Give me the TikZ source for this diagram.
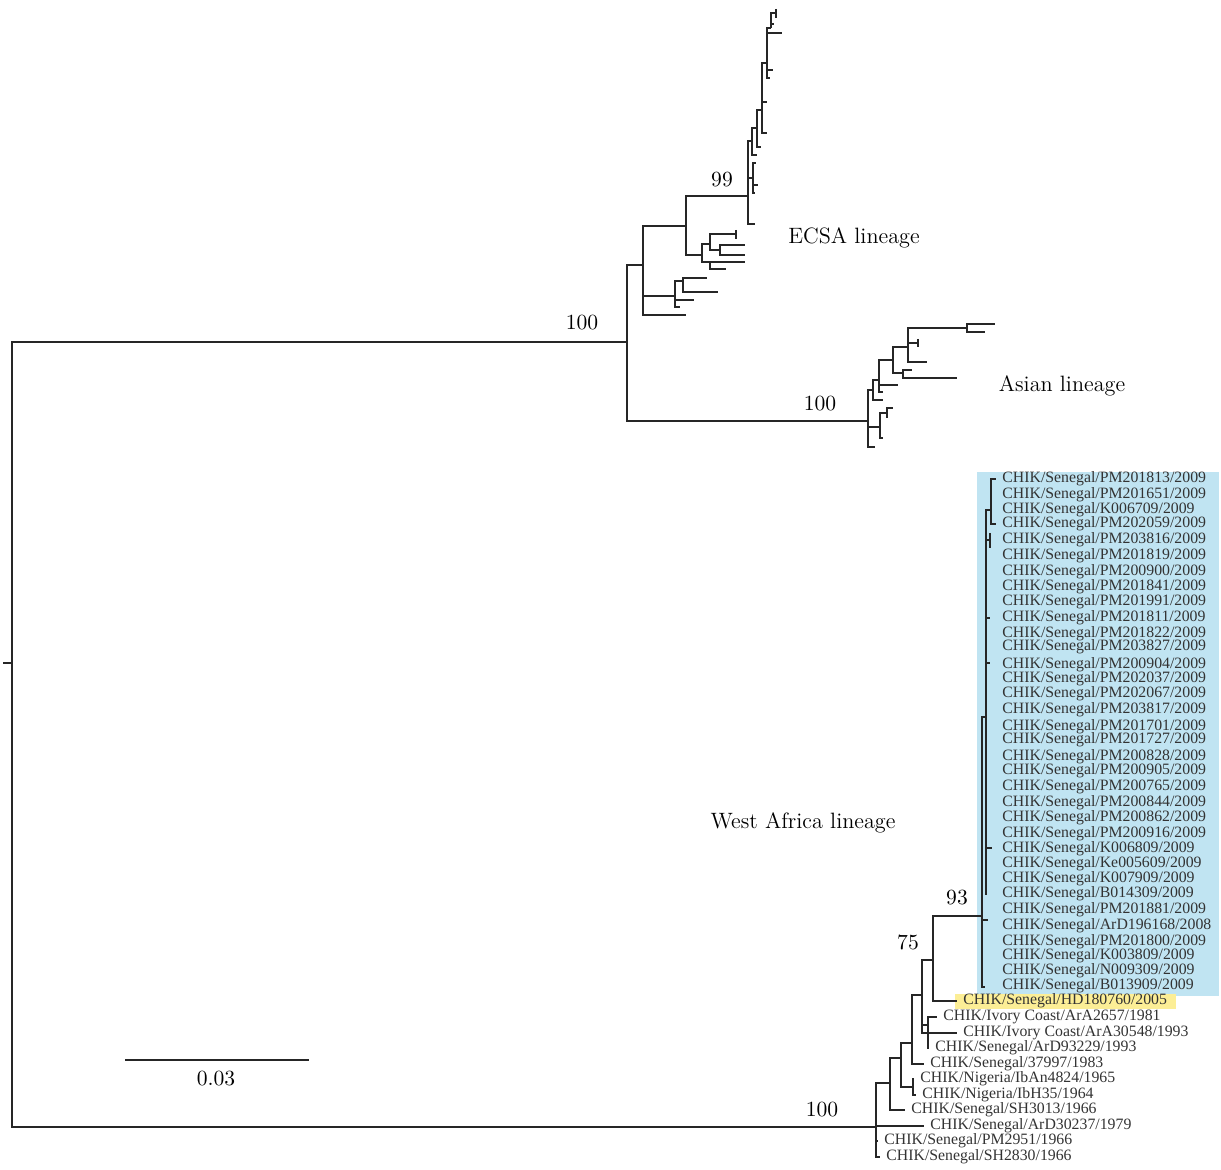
\documentclass[tikz,border=0pt]{standalone}
\usepackage{fontspec}
\newfontfamily\tipfont{Liberation Serif}
\begin{document}
\begin{tikzpicture}[x=0.5pt, y=-0.5pt,
			branch/.style={line width=1pt, black!85},
			tiplab/.style={anchor=west, inner xsep=3pt, inner ysep=0pt, text=black!80, font=\tipfont\fontsize{7.9}{9}\selectfont},
			boot/.style={inner sep=0pt, font=\fontsize{10.8}{12}\selectfont},
			lineage/.style={inner sep=0pt, font=\fontsize{11.1}{13}\selectfont},
			bluebox/.style={fill={rgb,255:red,192;green,228;blue,242}},
			yellowbox/.style={fill={rgb,255:red,252;green,238;blue,150}},
			]
			
			\useasboundingbox (0,0) rectangle (1221,1170);
			
			%%═══ HIGHLIGHTS ══════════════════════════════════════════════
			\fill[bluebox]   (977,472) rectangle (1219,996);    % 2008-2009 strains
			\fill[yellowbox] (955,994) rectangle (1176,1009);   % HD180760
			
			%%═══ BACKBONE ════════════════════════════════════════════════
			\coordinate (rootstub) at (3,663);
			\coordinate (root)     at (12,663);
			\coordinate (ecsaasia) at (627,342);
			\coordinate (wafrica)  at (876,1127);
			\draw[branch] (rootstub) -- (root);
			\draw[branch] (root) |- (ecsaasia);
			\draw[branch] (root) |- (wafrica);
			
			%%═══ ECSA LINEAGE ════════════════════════════════════════════
			\coordinate (ecsa) at (643,265);
			\coordinate (e1)   at (686,226);
			\coordinate (e2)   at (675,296);
			\coordinate (e2a)  at (683,281);
			\coordinate (e3)   at (702,255);
			\coordinate (e3a)  at (710,244);
			\coordinate (e3b)  at (720,250);
			\coordinate (e3c)  at (710,262);
			\coordinate (e99)  at (748,196);
			\coordinate (e4)   at (752,141);
			\coordinate (e5)   at (753,178);
			\coordinate (e6)   at (757,128);
			\coordinate (e7)   at (762,110);
			\coordinate (e8)   at (767,63);
			\coordinate (e9)   at (771,28);
			\draw[branch] (ecsaasia) |- (ecsa);
			\draw[branch] (ecsa) |- (e1);
			\draw[branch] (ecsa) |- (e2);
			\draw[branch] (ecsa) |- (686,315);
			% basal group
			\draw[branch] (e2) |- (e2a);
			\draw[branch] (e2a) |- (707,278);
			\draw[branch] (e2a) |- (718,292);
			\draw[branch] (e2) |- (694,300);
			\draw[branch] (e2) |- (680,307);
			% middle group
			\draw[branch] (e1) |- (e3);
			\draw[branch] (e3) |- (e3a);
			\draw[branch] (e3a) |- (736,234);
			\draw[branch] (736,230) -- (736,239);
			\draw[branch] (e3a) |- (e3b);
			\draw[branch] (e3b) |- (745,245);
			\draw[branch] (e3b) |- (745,255);
			\draw[branch] (e3) |- (e3c);
			\draw[branch] (e3c) |- (745,262);
			\draw[branch] (e3c) |- (726,269);
			% supported group (99)
			\draw[branch] (e1) |- (e99);
			\draw[branch] (e99) |- (755,224);
			\draw[branch] (e99) |- (e5);
			\draw[branch] (e5) |- (756,163);
			\draw[branch] (e5) |- (758,185);
			\draw[branch] (e5) |- (755,193);
			\draw[branch] (e99) |- (e4);
			\draw[branch] (e4) |- (757,155);
			\draw[branch] (e4) |- (e6);
			\draw[branch] (e6) |- (761,147);
			\draw[branch] (e6) |- (e7);
			\draw[branch] (e7) |- (767,133);
			\draw[branch] (e7) |- (767,102);
			\draw[branch] (e7) |- (e8);
			\draw[branch] (e8) |- (773,70);
			\draw[branch] (e8) |- (770,78);
			\draw[branch] (e8) |- (782,33);
			\draw[branch] (e8) |- (e9);
			\draw[branch] (e9) |- (777,13);
			\draw[branch] (e9) |- (774,24);
			\draw[branch] (776,9) -- (776,18);
			
			%%═══ ASIAN LINEAGE ═══════════════════════════════════════════
			\coordinate (asia) at (868,421);
			\coordinate (a1)   at (873,390);
			\coordinate (a2)   at (880,427);
			\coordinate (a3)   at (879,380);
			\coordinate (a4)   at (893,360);
			\coordinate (a5)   at (908,347);
			\coordinate (a6)   at (903,373);
			\coordinate (a7)   at (967,328);
			\coordinate (a9)   at (887,413);
			\draw[branch] (ecsaasia) |- (asia);
			\draw[branch] (asia) |- (a1);
			\draw[branch] (asia) |- (a2);
			\draw[branch] (asia) |- (875,447);
			\draw[branch] (a1) |- (a3);
			\draw[branch] (a1) |- (883,400);
			\draw[branch] (a3) |- (a4);
			\draw[branch] (a3) |- (898,385);
			\draw[branch] (a3) |- (883,392);
			\draw[branch] (a4) |- (a5);
			\draw[branch] (a4) |- (a6);
			\draw[branch] (a5) |- (a7);
			\draw[branch] (a5) |- (918,343);
			\draw[branch] (918,339) -- (918,347);
			\draw[branch] (a5) |- (927,362);
			\draw[branch] (a7) |- (995,324);
			\draw[branch] (a7) |- (985,332);
			\draw[branch] (a6) |- (912,370);
			\draw[branch] (a6) |- (957,378);
			\draw[branch] (a2) |- (a9);
			\draw[branch] (a9) |- (893,408);
			\draw[branch] (a9) |- (888,417);
			\draw[branch] (a2) |- (883,438);
			
			%%═══ WEST AFRICA LINEAGE ═════════════════════════════════════
			\coordinate (wa2)     at (890,1083);
			\coordinate (wa3)     at (901,1058);
			\coordinate (wa4)     at (912,1043);
			\coordinate (wa5)     at (922,995);
			\coordinate (wa75)    at (933,960);
			\coordinate (wa93)    at (982,916);
			\coordinate (nigeria) at (913,1087);
			\coordinate (ivory)   at (928,1025);
			% tip labels outside the 2008-2009 group
			\node[tiplab] (HD180760) at (957,1001) {CHIK/Senegal/HD180760/2005};
			\node[tiplab] (ArA2657)  at (937,1017) {CHIK/Ivory Coast/ArA2657/1981};
			\node[tiplab] (ArA30548) at (957,1033) {CHIK/Ivory Coast/ArA30548/1993};
			\node[tiplab] (ArD93229) at (929,1048) {CHIK/Senegal/ArD93229/1993};
			\node[tiplab] (S37997)   at (924,1064) {CHIK/Senegal/37997/1983};
			\node[tiplab] (IbAn4824) at (914,1079) {CHIK/Nigeria/IbAn4824/1965};
			\node[tiplab] (IbH35)    at (916,1095) {CHIK/Nigeria/IbH35/1964};
			\node[tiplab] (SH3013)   at (905,1110) {CHIK/Senegal/SH3013/1966};
			\node[tiplab] (ArD30237) at (924,1126) {CHIK/Senegal/ArD30237/1979};
			\node[tiplab] (PM2951)   at (878,1141) {CHIK/Senegal/PM2951/1966};
			\node[tiplab] (SH2830)   at (880,1157) {CHIK/Senegal/SH2830/1966};
			\draw[branch] (wafrica) |- (wa2);
			\draw[branch] (wafrica) |- (ArD30237.west);
			\draw[branch] (wafrica) |- (PM2951.west);
			\draw[branch] (wafrica) |- (SH2830.west);
			\draw[branch] (wa2) |- (wa3);
			\draw[branch] (wa2) |- (SH3013.west);
			\draw[branch] (wa3) |- (wa4);
			\draw[branch] (wa3) |- (nigeria);
			\draw[branch] (nigeria) |- (IbAn4824.west);
			\draw[branch] (nigeria) |- (IbH35.west);
			\draw[branch] (wa4) |- (wa5);
			\draw[branch] (wa4) |- (S37997.west);
			\draw[branch] (wa5) |- (wa75);
			\draw[branch] (wa5) |- (ivory);
			\draw[branch] (wa5) |- (ArA30548.west);
			\draw[branch] (ivory) |- (ArA2657.west);
			\draw[branch] (ivory) |- (ArD93229.west);
			\draw[branch] (wa75) |- (wa93);
			\draw[branch] (wa75) |- (HD180760.west);
			
			% 2008-2009 group (blue box)
			\foreach \yy/\nm/\yr [count=\i] in {
				479/PM201813/2009, 495/PM201651/2009, 510/K006709/2009, 524/PM202059/2009,
				540/PM203816/2009, 556/PM201819/2009, 572/PM200900/2009, 587/PM201841/2009,
				602/PM201991/2009, 618/PM201811/2009, 634/PM201822/2009, 647/PM203827/2009,
				665/PM200904/2009, 679/PM202037/2009, 694/PM202067/2009, 710/PM203817/2009,
				727/PM201701/2009, 740/PM201727/2009, 757/PM200828/2009, 771/PM200905/2009,
				787/PM200765/2009, 803/PM200844/2009, 818/PM200862/2009, 834/PM200916/2009,
				849/K006809/2009, 864/Ke005609/2009, 879/K007909/2009, 894/B014309/2009,
				910/PM201881/2009, 926/ArD196168/2008, 942/PM201800/2009, 956/K003809/2009,
				971/N009309/2009, 986/B013909/2009}
			\node[tiplab] (blue\i) at (996,\yy) {CHIK/Senegal/\nm/\yr};
			
			\coordinate (blueback) at (986,717);
			\coordinate (bluetop)  at (991,510);
			\coordinate (bluepair) at (990,540);
			\draw[branch] (wa93) |- (blueback);
			\draw[branch] (wa93) |- (985,987);
			\draw[branch] (wa93) |- (988,920);
			\draw[branch] (blueback) |- (bluetop);
			\draw[branch] (bluetop) |- (blue1.west);
			\draw[branch] (bluetop) |- (blue4.west);
			\draw[branch] (blueback) |- (bluepair);
			\draw[branch] (990,533) -- (990,548);
			\draw[branch] (blueback) |- (990,618);
			\draw[branch] (blueback) |- (990,663);
			\draw[branch] (blueback) |- (992,848);
			\draw[branch] (blueback) |- (986,895);
			
			%%═══ SUPPORT VALUES AND LINEAGE NAMES ════════════════════════
			\node[boot] (bs99)   at (722,180)  {99};
			\node[boot] (bsroot) at (582,323)  {100};
			\node[boot] (bsasia) at (820,404)  {100};
			\node[boot] (bswa)   at (822,1110) {100};
			\node[boot] (bs93)   at (957,898)  {93};
			\node[boot] (bs75)   at (908,942)  {75};
			
			\node[lineage] (ecsalab) at (854,238) {ECSA lineage};
			\node[lineage] (asialab) at (1062,386) {Asian lineage};
			\node[lineage] (walab)   at (803,823) {West Africa lineage};
			
			%%═══ SCALE BAR ═══════════════════════════════════════════════
			\coordinate (sbleft)  at (125,1060);
			\coordinate (sbright) at (309,1060);
			\draw[branch] (sbleft) -- (sbright);
			\node[boot] (sblab) at (216,1079) {0.03};
			
		\end{tikzpicture}
\end{document}
